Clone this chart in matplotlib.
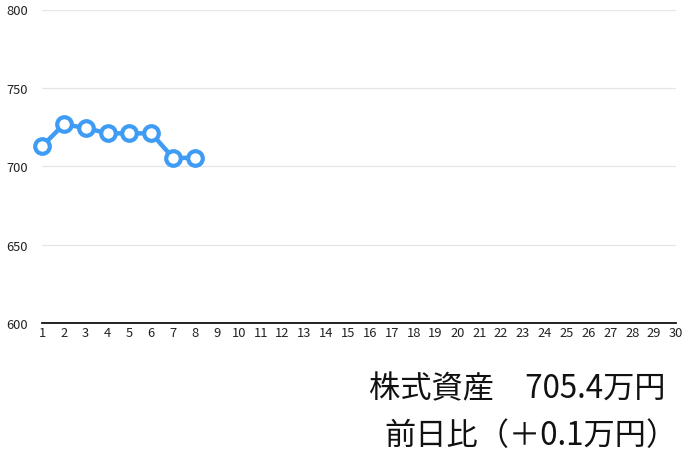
import matplotlib
matplotlib.use("Agg")
import matplotlib.pyplot as plt

plt.rcParams['font.family'] = ['Noto Sans CJK JP', 'DejaVu Sans']

days = list(range(1, 31))
values = [712.7, 726.8, 724.4, 721.0, 721.0, 721.0, 705.3, 705.4]
x_data = days[:len(values)]
y_ticks = [600, 650, 700, 750, 800]
total_text = "株式資産　705.4万円"
diff_text = "前日比（＋0.1万円）"

fig = plt.figure(figsize=(6.9, 4.6), dpi=100)
ax = fig.add_axes([42/690, 1 - 324/460, (676 - 42)/690, (324 - 10.5)/460])

line_color = '#3F9CF4'
ax.plot(x_data, values, color=line_color, linewidth=3.2, marker='o',
        markersize=10.5, markerfacecolor='white', markeredgecolor=line_color,
        markeredgewidth=3.0, zorder=3, clip_on=False)

ax.set_xlim(1, 30)
ax.set_ylim(600, 800)
ax.set_xticks(days)
ax.set_xticklabels([str(d) for d in days], fontsize=9.3)
ax.set_yticks(y_ticks)
ax.set_yticklabels([str(v) for v in y_ticks], fontsize=9.3)
ax.tick_params(axis='both', length=0, colors='#222222')
ax.tick_params(axis='x', pad=2)
ax.tick_params(axis='y', pad=10)

ax.grid(axis='y', color='#e6e6e6', linewidth=0.9)
ax.set_axisbelow(True)
for s in ['left', 'right', 'top']:
    ax.spines[s].set_visible(False)
ax.spines['bottom'].set_color('#111111')
ax.spines['bottom'].set_linewidth(1.3)

fig.text(666/690, 1 - 389/460, total_text, ha='right', va='center',
         fontsize=22.5, color='#111111')
fig.text(678/690, 1 - 436/460, diff_text, ha='right', va='center',
         fontsize=22.5, color='#111111')

fig.savefig('out.png', dpi=100, facecolor='white')
